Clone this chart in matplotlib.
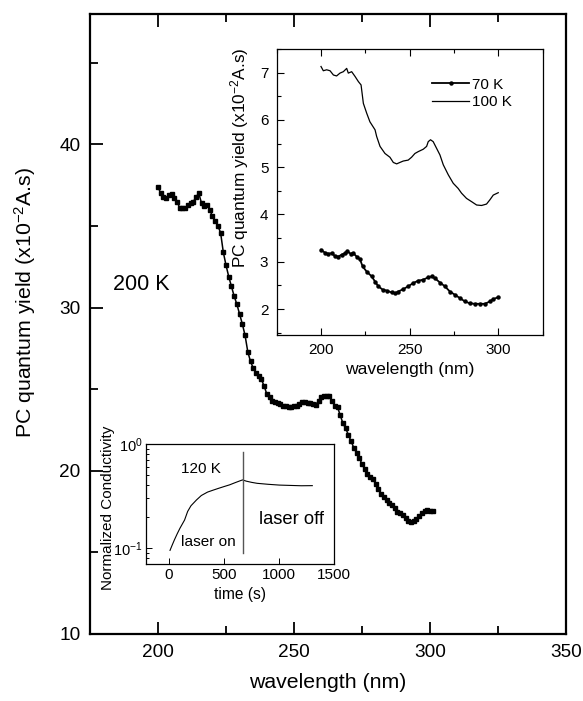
import numpy as np
import matplotlib
matplotlib.use("Agg")
import matplotlib.pyplot as plt
from matplotlib.ticker import MultipleLocator, LogLocator, NullFormatter

plt.rcParams['font.family'] = ['Liberation Sans', 'DejaVu Sans']
plt.rcParams['mathtext.default'] = 'regular'

# main curve, 200 K
wl_200 = [200, 201, 202, 203, 204, 205, 206, 207, 208, 209, 210, 211, 212, 213, 214,
          215, 216, 217, 218, 219, 220, 221, 222, 223, 224, 225, 226, 227, 228, 229,
          230, 231, 232, 233, 234, 235, 236, 237, 238, 239, 240, 241, 242, 243, 244,
          245, 246, 247, 248, 249, 250, 251, 252, 253, 254, 255, 256, 257, 258, 259,
          260, 261, 262, 263, 264, 265, 266, 267, 268, 269, 270, 271, 272, 273, 274,
          275, 276, 277, 278, 279, 280, 281, 282, 283, 284, 285, 286, 287, 288, 289,
          290, 291, 292, 293, 294, 295, 296, 297, 298, 299, 300, 301]
pc_200 = [37.4, 37.0, 36.8, 36.7, 36.9, 36.95, 36.7, 36.5, 36.1, 36.1, 36.1, 36.3, 36.4, 36.5, 36.8,
          37.0, 36.4, 36.2, 36.3, 36.0, 35.6, 35.3, 35.0, 34.6, 33.4, 32.6, 31.9, 31.3, 30.7, 30.2,
          29.6, 29.0, 28.3, 27.3, 26.7, 26.3, 26.0, 25.8, 25.6, 25.2, 24.7, 24.5, 24.3, 24.2, 24.15,
          24.1, 24.0, 23.95, 23.9, 23.9, 23.95, 23.95, 24.1, 24.2, 24.2, 24.15, 24.15, 24.1, 24.05, 24.3,
          24.5, 24.6, 24.6, 24.6, 24.3, 24.0, 23.9, 23.4, 22.9, 22.6, 22.2, 21.8, 21.4, 21.1, 20.8,
          20.4, 20.1, 19.8, 19.6, 19.5, 19.2, 18.9, 18.6, 18.4, 18.2, 18.05, 17.9, 17.7, 17.5, 17.4,
          17.3, 17.1, 16.95, 16.85, 16.9, 17.05, 17.25, 17.4, 17.55, 17.6, 17.55, 17.55]

# upper inset, 100 K and 70 K
wl_100 = [200, 201.3, 203.2, 205.1, 207, 208.8, 210.7, 212.6, 214.5, 215.4, 217.3, 219.2, 221.1,
          222.6, 223.9, 225.8, 227.6, 230.5, 231.4, 233.3, 236.1, 238.9, 240.8, 242.7, 244.5, 246.4,
          249.2, 251.1, 253, 254.9, 257.7, 259.6, 260.5, 261.8, 263.3, 265.2, 267.1, 269, 271.8,
          274.6, 277.4, 279.3, 282.1, 285, 287.8, 290.6, 293.4, 295.3, 297.2, 300]
pc_100 = [7.13, 7.04, 7.06, 7.04, 6.95, 6.93, 6.99, 7.02, 7.09, 6.99, 7.02, 6.92, 6.81,
          6.74, 6.35, 6.14, 5.96, 5.79, 5.65, 5.44, 5.29, 5.21, 5.10, 5.07, 5.10, 5.13,
          5.15, 5.21, 5.29, 5.33, 5.38, 5.44, 5.54, 5.58, 5.54, 5.40, 5.26, 5.05, 4.84,
          4.66, 4.55, 4.45, 4.34, 4.27, 4.20, 4.19, 4.22, 4.31, 4.41, 4.46]
wl_70 = [200, 202.3, 204.1, 206, 207.9, 209.8, 211.7, 213.5, 214.8, 216.7, 218.2, 220.1, 222,
         223.5, 225.8, 228.6, 230.5, 232.3, 234.8, 237, 239.8, 241.7, 243.6, 246.4, 249.2, 252.1,
         254.9, 257.7, 260.5, 262.4, 264.3, 267.1, 269.9, 272.7, 275.6, 278.4, 281.2, 284, 286.8,
         289.7, 292.5, 295.3, 297.2, 300]
pc_70 = [3.25, 3.19, 3.17, 3.18, 3.12, 3.11, 3.15, 3.18, 3.22, 3.17, 3.18, 3.11, 3.05,
         2.90, 2.79, 2.69, 2.58, 2.48, 2.41, 2.39, 2.35, 2.33, 2.37, 2.42, 2.48, 2.55,
         2.60, 2.62, 2.67, 2.69, 2.65, 2.56, 2.48, 2.37, 2.30, 2.23, 2.16, 2.12, 2.11,
         2.11, 2.11, 2.16, 2.21, 2.25]

# lower inset, 120 K transient
t_120 = [10, 30, 50, 75, 100, 142, 170, 200, 250, 294, 350, 400, 450, 500, 550, 600, 650, 668,
         700, 750, 800, 900, 1000, 1100, 1200, 1300]
cond_120 = [0.095, 0.107, 0.12, 0.137, 0.155, 0.186, 0.225, 0.255, 0.29, 0.32, 0.345, 0.36, 0.375,
            0.39, 0.405, 0.425, 0.445, 0.452, 0.44, 0.428, 0.419, 0.41, 0.403, 0.4, 0.397, 0.398]
t_switch = 668
cond_switch = [0.089, 0.84]

fig = plt.figure(figsize=(5.83, 7.01), dpi=100)

# ---- main axes
ax = fig.add_axes([0.1544, 0.0956, 0.8165, 0.8845])
ax.plot(wl_200, pc_200, color='black', lw=1.1, marker='s', ms=2.4)
ax.set_xlim(175, 350)
ax.set_ylim(10, 48)
ax.xaxis.set_major_locator(MultipleLocator(50))
ax.xaxis.set_minor_locator(MultipleLocator(25))
ax.yaxis.set_major_locator(MultipleLocator(10))
ax.yaxis.set_minor_locator(MultipleLocator(5))
ax.tick_params(which='both', direction='in', top=True, right=False, labelsize=13.7, width=1.3)
ax.tick_params(which='major', length=9, pad=7)
ax.tick_params(which='minor', length=6)
for s in ax.spines.values():
    s.set_linewidth(1.6)
ax.set_xlabel('wavelength (nm)', fontsize=15.3, labelpad=9)
ax.set_ylabel('PC quantum yield (x10$^{-2}$A.s)', fontsize=15.3)
ax.yaxis.set_label_coords(-0.11, 0.534)
ax.text(183.5, 31.4, '200 K', fontsize=15.5, ha='left', va='center')

# ---- upper inset
ax1 = fig.add_axes([0.4746, 0.5221, 0.456, 0.408])
ax1.plot(wl_70, pc_70, color='black', lw=1.3, marker='o', ms=2.2, label='70 K')
ax1.plot(wl_100, pc_100, color='black', lw=0.9, label='100 K')
ax1.set_xlim(175, 325)
ax1.set_ylim(1.45, 7.5)
ax1.xaxis.set_major_locator(MultipleLocator(50))
ax1.xaxis.set_minor_locator(MultipleLocator(25))
ax1.yaxis.set_major_locator(MultipleLocator(1))
ax1.yaxis.set_minor_locator(MultipleLocator(0.5))
ax1.tick_params(which='both', direction='in', top=True, right=False, labelsize=11, width=0.8)
ax1.tick_params(which='major', length=5, pad=6)
ax1.tick_params(which='minor', length=3)
for s in ax1.spines.values():
    s.set_linewidth(0.9)
ax1.set_xlabel('wavelength (nm)', fontsize=12.6, labelpad=3)
ax1.set_ylabel('PC quantum yield (x10$^{-2}$A.s)', fontsize=12.4)
ax1.yaxis.set_label_coords(-0.098, 0.62)
ax1.legend(loc='upper left', bbox_to_anchor=(0.585, 0.9), frameon=False, fontsize=11,
           handlelength=2.4, handletextpad=0.2, labelspacing=0.25, borderpad=0,
           borderaxespad=0)

# ---- lower inset
ax2 = fig.add_axes([0.25, 0.1961, 0.3235, 0.1705])
ax2.plot(t_120, cond_120, color='black', lw=0.8)
ax2.plot([t_switch, t_switch], cond_switch, color='#555555', lw=1.0)
ax2.set_yscale('log')
ax2.set_xlim(-210, 1500)
ax2.set_ylim(0.071, 1.0)
ax2.xaxis.set_major_locator(MultipleLocator(500))
ax2.yaxis.set_major_locator(LogLocator(base=10))
ax2.yaxis.set_minor_locator(LogLocator(base=10, subs=np.arange(2, 10) * 1.0))
ax2.yaxis.set_minor_formatter(NullFormatter())
ax2.tick_params(which='both', direction='in', top=False, right=False, labelsize=11, width=0.7)
ax2.tick_params(axis='y', labelsize=10.5, pad=2)
ax2.tick_params(which='major', length=4)
ax2.tick_params(axis='x', pad=3)
ax2.tick_params(which='minor', length=2.5)
for s in ax2.spines.values():
    s.set_linewidth(0.9)
ax2.set_xlabel('time (s)', fontsize=11.2, labelpad=4)
ax2.set_ylabel('Normalized Conductivity', fontsize=11)
ax2.yaxis.set_label_coords(-0.165, 0.47)
ax2.text(294, 0.575, '120 K', fontsize=11, ha='center', va='center')
ax2.text(362, 0.115, 'laser on', fontsize=11.1, ha='center', va='center')
ax2.text(1114, 0.19, 'laser off', fontsize=13.2, ha='center', va='center')

fig.savefig('out.png', dpi=100)
